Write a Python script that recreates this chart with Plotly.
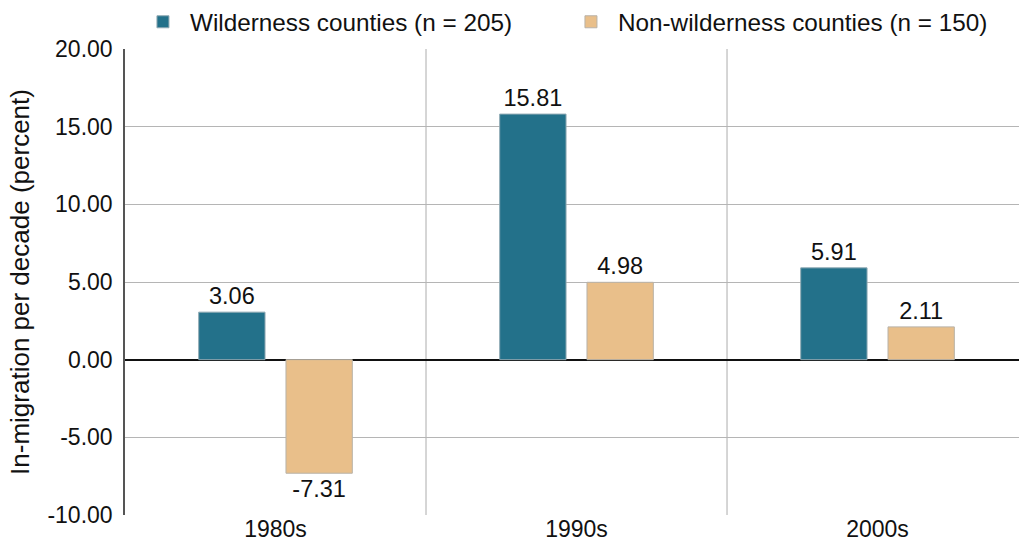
import plotly.graph_objects as go

categories = ["1980s", "1990s", "2000s"]
wilderness = [3.06, 15.81, 5.91]
non_wilderness = [-7.31, 4.98, 2.11]
series_names = ["Wilderness counties (n = 205)", "Non-wilderness counties (n = 150)"]
y_ticks = [-10, -5, 0, 5, 10, 15, 20]
y_tick_labels = ["-10.00", "-5.00", "0.00", "5.00", "10.00", "15.00", "20.00"]

FONT = "Liberation Sans, Arial, Helvetica, sans-serif"

fig = go.Figure()
fig.add_trace(go.Bar(
    x=categories, y=wilderness, name=series_names[0],
    marker=dict(color="#23718A", line=dict(color="#8FA9B3", width=1)),
    text=[f"{v:.2f}" for v in wilderness], textposition="outside",
    textfont=dict(size=23.5, color="#111111"), cliponaxis=False,
))
fig.add_trace(go.Bar(
    x=categories, y=non_wilderness, name=series_names[1],
    marker=dict(color="#E9BF8A", line=dict(color="#B8B2A8", width=1)),
    text=[f"{v:.2f}" for v in non_wilderness], textposition="outside",
    textfont=dict(size=23.5, color="#111111"), cliponaxis=False,
))

shapes = []
for i in range(len(categories) - 1):
    shapes.append(dict(type="line", xref="x", yref="paper", x0=i + 0.5, x1=i + 0.5,
                       y0=0, y1=1, line=dict(color="#C8C8C8", width=1.5), layer="below"))

fig.update_layout(
    width=1019, height=544,
    margin=dict(l=125, r=0, t=49, b=29, autoexpand=False),
    paper_bgcolor="white", plot_bgcolor="white",
    font=dict(family=FONT, size=23, color="#111111"),
    barmode="group", bargap=0.42, bargroupgap=0.24,
    showlegend=True,
    legend=dict(orientation="h", x=0.491, xanchor="center", y=1.058, yanchor="middle",
                font=dict(size=24.3), itemwidth=44, traceorder="normal",
                entrywidth=369, entrywidthmode="pixels"),
    shapes=shapes,
    xaxis=dict(type="category", range=[-0.5, len(categories) - 0.53], showgrid=False,
               ticks="", ticklen=0, tickfont=dict(size=23), showline=False, automargin=False,
               ticklabelstandoff=-2),
    yaxis=dict(range=[-10, 20], tickvals=y_ticks, ticktext=y_tick_labels,
               showgrid=True, gridcolor="#B5B5B5", gridwidth=1.3,
               zeroline=True, zerolinecolor="#111111", zerolinewidth=1.6,
               showline=True, linecolor="#555555", linewidth=1.5,
               ticks="", ticklen=0, tickfont=dict(size=23), automargin=False,
               ticklabelstandoff=6,
               title=dict(text="In-migration per decade (percent)", font=dict(size=26), standoff=10)),
)

fig.write_html("out.html", config={"displayModeBar": False},
               post_script="document.body.style.margin='0';document.body.style.overflow='hidden';")
